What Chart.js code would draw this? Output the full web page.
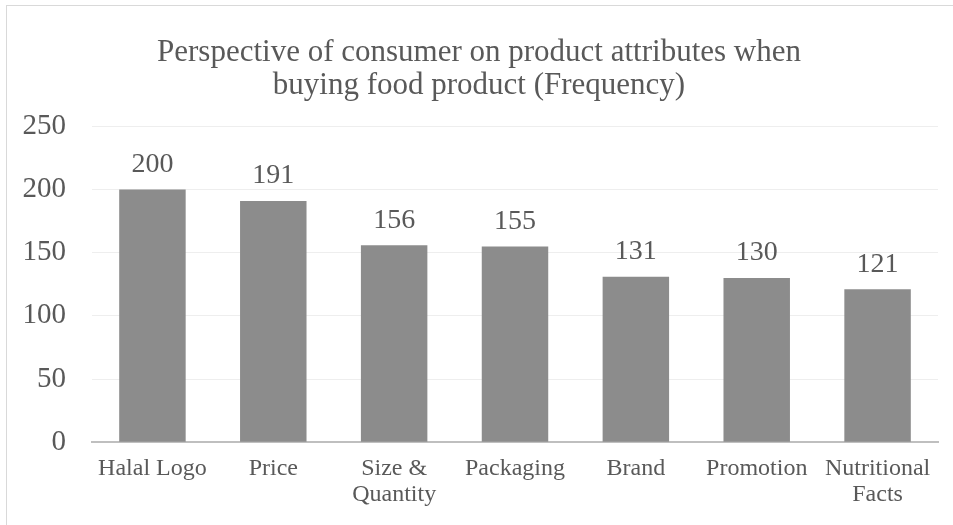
<!DOCTYPE html>
<html>
<head>
<meta charset="utf-8">
<script src="https://cdn.jsdelivr.net/npm/chart.js@4/dist/chart.umd.min.js"></script>
<style>
  body { margin: 0; background: #ffffff; }
  #wrap { position: relative; width: 953px; height: 525px; overflow: hidden; }
  #frame { position: absolute; left: 6px; top: 5px; width: 960px; height: 540px; border: 1px solid #d9d9d9; }
  canvas { position: absolute; left: 0; top: 0; }
</style>
</head>
<body>
<div id="wrap">
  <div id="frame"></div>
  <canvas id="chart" width="953" height="525"></canvas>
</div>
<script>
// Frequency of each attribute
const categories = ['Halal Logo', 'Price', ['Size &', 'Quantity'], 'Packaging', 'Brand', 'Promotion', ['Nutritional', 'Facts']];
const frequency = [200, 191, 156, 155, 131, 130, 121];
const yTicks = [0, 50, 100, 150, 200, 250];

const fontName = "'Liberation Serif', 'DejaVu Serif', serif";
const textColor = '#595959';

// draw the numbers above the bars
const barLabels = {
    id: 'barLabels',
    afterDatasetsDraw(chart) {
        const ctx = chart.ctx;
        const meta = chart.getDatasetMeta(0);
        ctx.save();
        ctx.font = '28px ' + fontName;
        ctx.fillStyle = textColor;
        ctx.textAlign = 'center';
        ctx.textBaseline = 'bottom';
        meta.data.forEach(function (bar, i) {
            ctx.fillText(frequency[i], bar.x, bar.y - 11);
        });
        ctx.restore();
    }
};

new Chart(document.getElementById('chart'), {
    type: 'bar',
    data: {
        labels: categories,
        datasets: [{
            label: 'Frequency',
            data: frequency,
            backgroundColor: '#8c8c8c',
            barPercentage: 0.55,
            categoryPercentage: 1.0
        }]
    },
    options: {
        responsive: false,
        animation: false,
        layout: { padding: { left: 20, right: 15, top: 37, bottom: 3 } },
        plugins: {
            legend: { display: false },
            tooltip: { enabled: false },
            title: {
                display: true,
                text: ['Perspective of consumer on product attributes when', 'buying food product (Frequency)'],
                color: textColor,
                font: { family: fontName, size: 31, weight: 'normal', lineHeight: 1.04 },
                padding: { top: 0, bottom: 25 }
            }
        },
        scales: {
            x: {
                grid: { display: false, drawTicks: false },
                border: { display: true, color: '#bfbfbf', width: 2 },
                ticks: {
                    color: textColor,
                    font: { family: fontName, size: 24, lineHeight: 1.08 },
                    padding: 14,
                    maxRotation: 0,
                    autoSkip: false
                }
            },
            y: {
                min: 0,
                max: 250,
                afterBuildTicks: function (axis) {
                    axis.ticks = yTicks.map(function (v) { return { value: v }; });
                },
                afterFit: function (axis) {
                    axis.width = 72;
                },
                grid: { color: '#eeeeee', lineWidth: 1, drawTicks: false },
                border: { display: false },
                ticks: {
                    color: textColor,
                    font: { family: fontName, size: 29 },
                    padding: 26
                }
            }
        }
    },
    plugins: [barLabels]
});
</script>
</body>
</html>
